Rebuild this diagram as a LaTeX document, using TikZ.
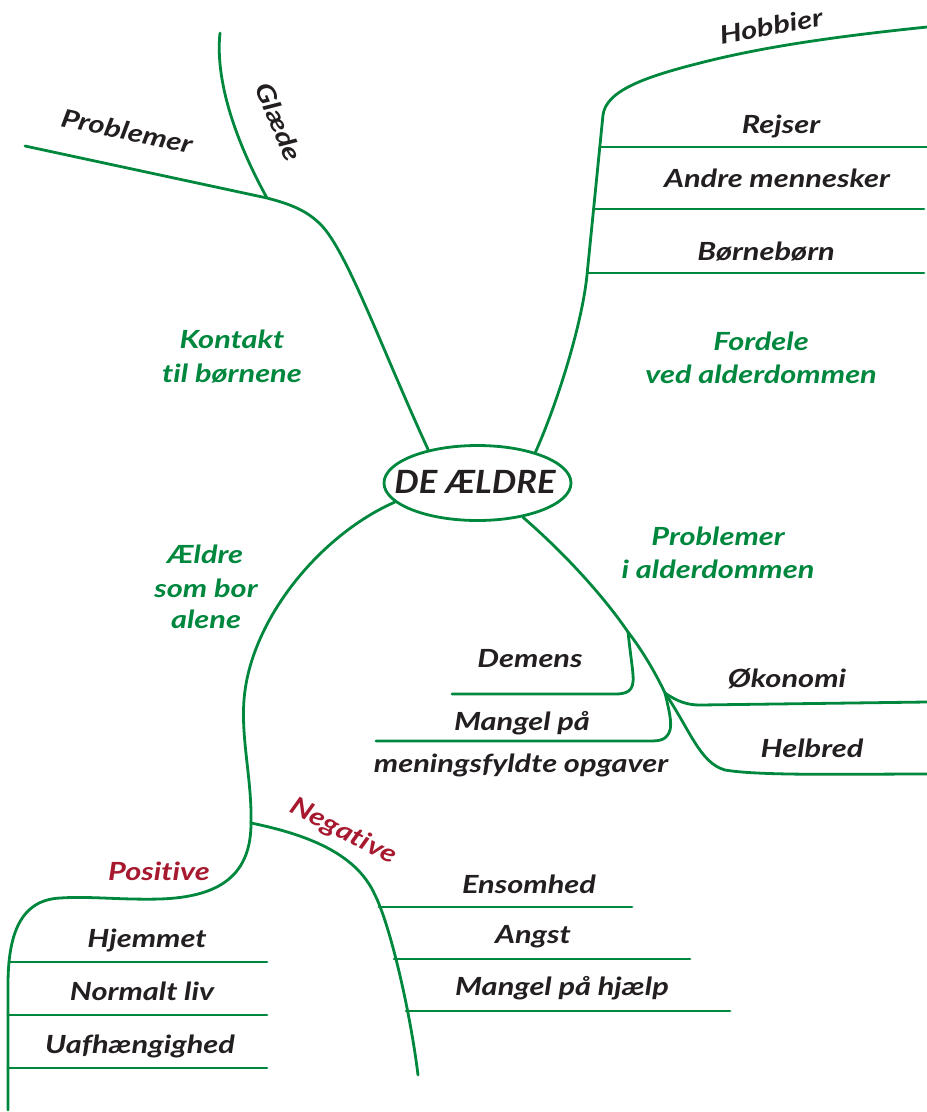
\documentclass[tikz,border=0pt]{standalone}
\usepackage{fontspec}
\setmainfont{Lato}[FakeStretch=1.23, Ligatures=NoCommon]
\newfontfamily\centrefont{Lato}[FakeStretch=1.08, Ligatures=NoCommon]
\usetikzlibrary{shapes.geometric}
\definecolor{mmgreen}{RGB}{0,135,62}
\definecolor{mmred}{RGB}{166,25,46}
\definecolor{mmblack}{RGB}{35,31,32}
\tikzset{
  branch/.style={draw=mmgreen, line width=2.8pt, line cap=round, line join=round},
  lab/.style={font=\fontsize{25}{30}\selectfont\bfseries\itshape, text=mmblack, inner sep=0pt, anchor=base},
  glab/.style={lab, text=mmgreen},
  rlab/.style={lab, text=mmred},
}
\begin{document}
\begin{tikzpicture}[x=1pt,y=-1pt]
\useasboundingbox (0,0) rectangle (927,1112);

% centre
\node[ellipse, draw=mmgreen, line width=2.8pt, minimum width=187, minimum height=75, inner sep=0pt] (E) at (477.5,483) {};
\node[lab, font=\centrefont\fontsize{32}{36}\selectfont\bfseries\itshape] (Etext) at (475,493) {DE ÆLDRE};

% ---------- top-left: Kontakt til børnene
\coordinate (g) at (267,198);
\coordinate (tlend) at (25,146);
\coordinate (glend) at (220,33);
\draw[branch] (E.146) .. controls (380,345) and (345,245) .. (318,222)
   .. controls (305,210) and (290,204) .. (g) -- (tlend);
\draw[branch] (g) .. controls (235,140) and (215,80) .. (glend);
\node[lab, anchor=center, rotate=-12] (tlprob) at (127,131) {Problemer};
\node[lab, anchor=center, rotate=-67] (glaede) at (279,122) {Glæde};
\node[glab] (kont1) at (232,348) {Kontakt};
\node[glab] (kont2) at (232,382) {til børnene};

% ---------- top-right: Fordele ved alderdommen
\coordinate (trk) at (587,275);
\coordinate (trtop) at (603,115);
\coordinate (hobend) at (927,27);
\draw[branch] (E.28) .. controls (556.6,405) and (582,325) .. (trk) -- (trtop)
   .. controls (606,92) and (640,78) .. (700,63)
   .. controls (770,45) and (850,35) .. (hobend);
\coordinate (r1) at (599.8,147);  \coordinate (r1e) at (927,147);
\coordinate (r2) at (593.6,209);  \coordinate (r2e) at (924,209);
\coordinate (r3) at (587.3,273);  \coordinate (r3e) at (924,273);
\draw[branch] (r1) -- (r1e);
\draw[branch] (r2) -- (r2e);
\draw[branch] (r3) -- (r3e);
\node[lab, anchor=center, rotate=10] (hobbier) at (771,26) {Hobbier};
\node[lab] (rejser) at (781,133) {Rejser};
\node[lab] (andre) at (777,187) {Andre mennesker};
\node[lab] (boern) at (766,260) {Børnebørn};
\node[glab] (ford1) at (761,350) {Fordele};
\node[glab] (ford2) at (761,383) {ved alderdommen};

% ---------- bottom-right: Problemer i alderdommen
\coordinate (d) at (628,632);
\coordinate (m) at (665,693);
\draw[branch] (E.-37.5) .. controls (563,552) and (602,594) .. (d)
   .. controls (642,650) and (655,672) .. (m);
\coordinate (demend) at (452,694);
\draw[branch] (d) .. controls (631,660) and (634,676) .. (633,682)
   .. controls (632,692) and (625,694) .. (615,694) -- (demend);
\coordinate (mangend) at (376,741);
\draw[branch] (m) .. controls (669,710) and (672,722) .. (670,730)
   .. controls (667,740) and (660,741) .. (650,741) -- (mangend);
\coordinate (oekend) at (927,702);
\draw[branch] (m) .. controls (678,702) and (688,705) .. (700,705) -- (oekend);
\coordinate (helend) at (927,774);
\draw[branch] (m) .. controls (690,730) and (700,763) .. (725,770)
   .. controls (760,776) and (850,774) .. (helend);
\node[glab] (prob1) at (718,545) {Problemer};
\node[glab] (prob2) at (718,578) {i alderdommen};
\node[lab] (demens) at (530,667) {Demens};
\node[lab] (mangel1) at (522,730) {Mangel på};
\node[lab] (mangel2) at (521,772) {meningsfyldte opgaver};
\node[lab] (oek) at (787,687) {Økonomi};
\node[lab] (helbred) at (812,757) {Helbred};

% ---------- bottom-left: Ældre som bor alene
\coordinate (n) at (251,823);
\draw[branch] (E.-167) .. controls (320,535) and (250,620) .. (244,700)
   .. controls (241,740) and (252,780) .. (n);
\node[glab] (ael1) at (205,563) {Ældre};
\node[glab] (ael2) at (206,597) {som bor};
\node[glab] (ael3) at (206,628) {alene};

% Positive
\coordinate (posend) at (8,1110);
\draw[branch] (n) .. controls (251,875) and (220,897) .. (160,899)
   .. controls (120,900) and (90,896) .. (60,898)
   .. controls (20,900) and (8,935) .. (8,985) -- (posend);
\coordinate (p1) at (9,962);   \coordinate (p1e) at (267,962);
\coordinate (p2) at (8,1015);  \coordinate (p2e) at (267,1015);
\coordinate (p3) at (8,1068);  \coordinate (p3e) at (267,1068);
\draw[branch] (p1) -- (p1e);
\draw[branch] (p2) -- (p2e);
\draw[branch] (p3) -- (p3e);
\node[rlab] (pos) at (159,880) {Positive};
\node[lab] (hjem) at (147,947) {Hjemmet};
\node[lab] (norm) at (142,1000) {Normalt liv};
\node[lab] (uaf) at (140,1053) {Uafhængighed};

% Negative
\coordinate (negend) at (418,1075);
\draw[branch] (n) .. controls (315,836) and (358,857) .. (375,895)
   .. controls (390,925) and (410,1010) .. (negend);
\coordinate (q1) at (379,907);  \coordinate (q1e) at (632,907);
\coordinate (q2) at (394,959);  \coordinate (q2e) at (690,959);
\coordinate (q3) at (406,1011); \coordinate (q3e) at (730,1011);
\draw[branch] (q1) -- (q1e);
\draw[branch] (q2) -- (q2e);
\draw[branch] (q3) -- (q3e);
\node[rlab, anchor=center, rotate=-27] (neg) at (343,832) {Negative};
\node[lab] (ens) at (529,893) {Ensomhed};
\node[lab] (angst) at (533,943) {Angst};
\node[lab] (mhj) at (562,995) {Mangel på hjælp};
\end{tikzpicture}
\end{document}
